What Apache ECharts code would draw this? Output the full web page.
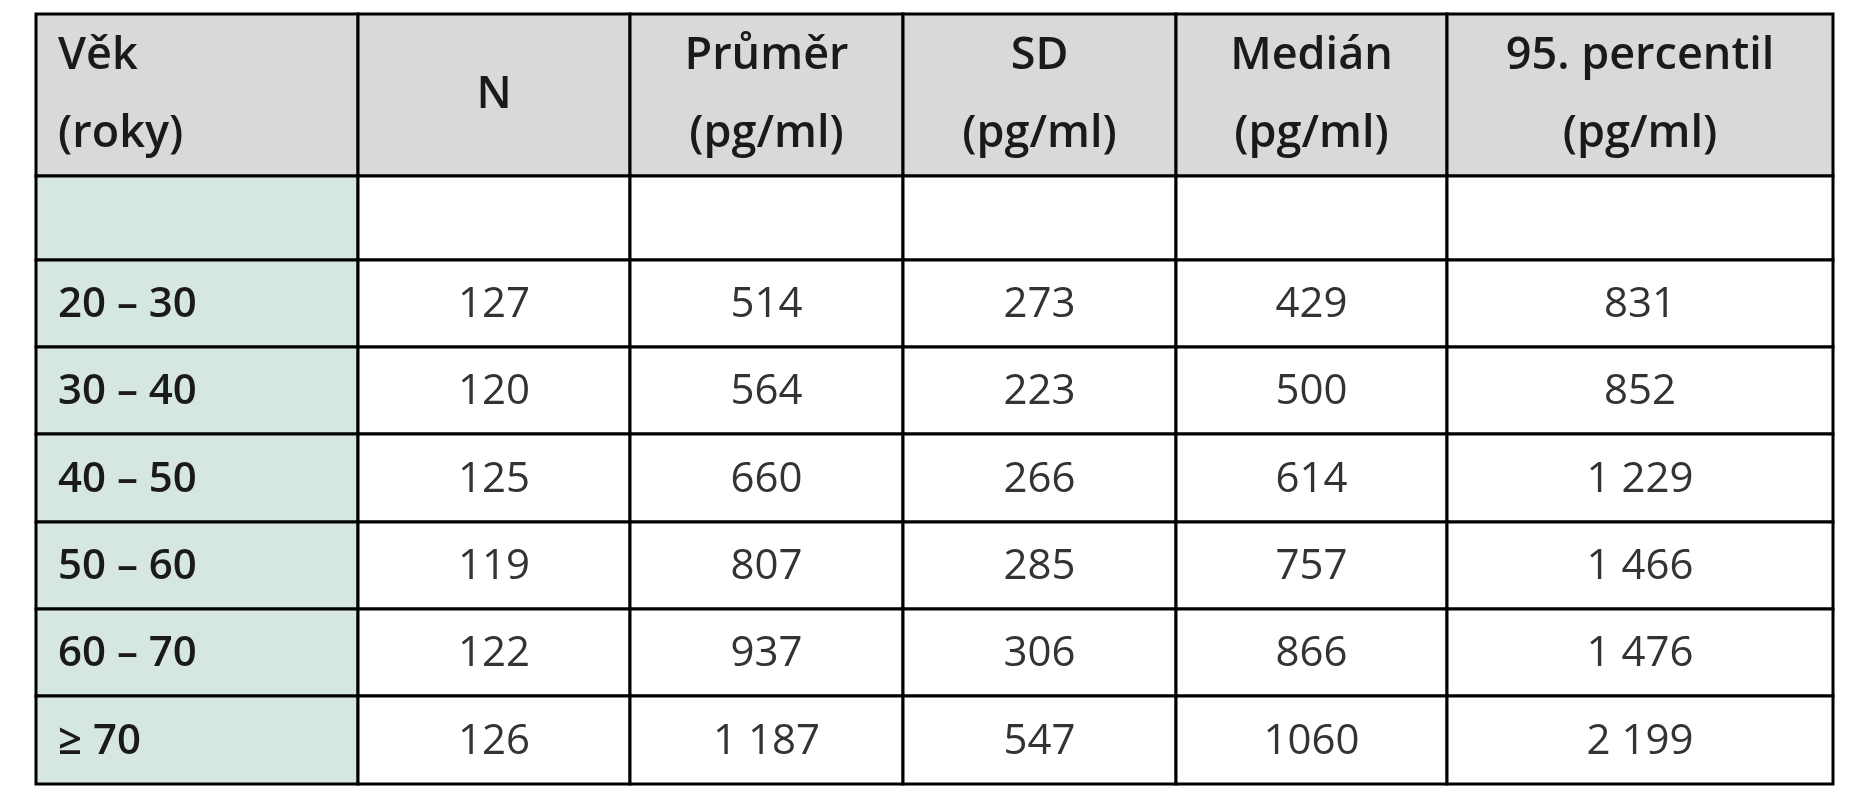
<!DOCTYPE html>
<html><head><meta charset="utf-8">
<script src="https://cdn.jsdelivr.net/npm/echarts@6/dist/echarts.min.js"></script>
<style>html,body{margin:0;padding:0;background:#fff}#c{width:1872px;height:800px}</style>
</head><body><div id="c"></div>
<script>
const headers = ['Věk\n(roky)', 'N', 'Průměr\n(pg/ml)', 'SD\n(pg/ml)', 'Medián\n(pg/ml)', '95. percentil\n(pg/ml)'];
const ageGroups = ['', '20 – 30', '30 – 40', '40 – 50', '50 – 60', '60 – 70', '≥ 70'];
const nValues = ['', '127', '120', '125', '119', '122', '126'];
const meanValues = ['', '514', '564', '660', '807', '937', '1 187'];
const sdValues = ['', '273', '223', '266', '285', '306', '547'];
const medianValues = ['', '429', '500', '614', '757', '866', '1060'];
const p95Values = ['', '831', '852', '1 229', '1 466', '1 476', '2 199'];

// layout (pixels)
const colEdges = [36, 358, 630, 903, 1176, 1447, 1833];
const rowEdges = [14, 176, 260, 347, 434, 522, 609, 696, 784];

const columns = [ageGroups, nValues, meanValues, sdValues, medianValues, p95Values];
const cells = [];
headers.forEach((h, c) => cells.push([c, 0, h]));
for (let r = 0; r < ageGroups.length; r++)
  for (let c = 0; c < columns.length; c++) cells.push([c, r + 1, columns[c][r]]);

const chart = echarts.init(document.getElementById('c'));
chart.setOption({
  animation: false,
  grid: {left: 0, right: 0, top: 0, bottom: 0},
  xAxis: {type: 'value', min: 0, max: 1872, show: false},
  yAxis: {type: 'value', min: 0, max: 800, inverse: true, show: false},
  series: [{
    type: 'custom',
    data: cells,
    renderItem: function (params, api) {
      const c = api.value(0), r = api.value(1);
      const txt = cells[params.dataIndex][2];
      const p0 = api.coord([colEdges[c], rowEdges[r]]);
      const p1 = api.coord([colEdges[c + 1], rowEdges[r + 1]]);
      let fill = '#ffffff';
      if (r === 0) fill = '#d9d9d9';
      else if (c === 0) fill = '#d6e6e2';
      const header = r === 0;
      const bold = header || c === 0;
      const left = c === 0;
      const size = header ? 45 : (bold ? 42 : 42);
      return {
        type: 'group',
        children: [
          {type: 'rect', shape: {x: p0[0], y: p0[1], width: p1[0] - p0[0], height: p1[1] - p0[1]},
           style: {fill: fill, stroke: '#000', lineWidth: 3}},
          {type: 'text', style: {
            text: txt,
            x: left ? p0[0] + 22 : (p0[0] + p1[0]) / 2,
            y: (p0[1] + p1[1]) / 2 + (header ? 0 : 2),
            align: left ? 'left' : 'center', verticalAlign: 'middle',
            font: (bold ? '600 ' : '400 ') + size + 'px "Open Sans", "Noto Sans", sans-serif',
            lineHeight: 78,
            fill: bold ? '#1a1a1a' : '#333333'
          }}
        ]
      };
    }
  }]
});
</script></body></html>
